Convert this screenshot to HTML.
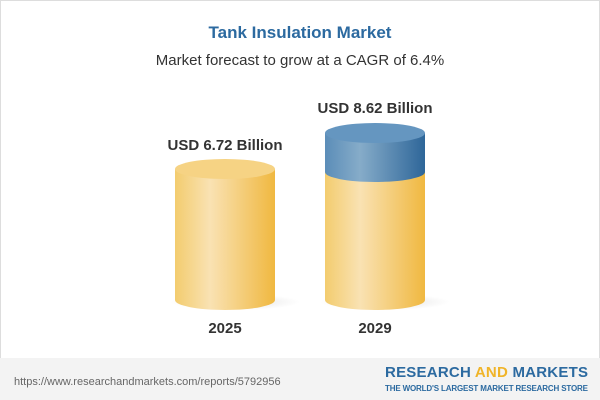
<!DOCTYPE html>
<html><head><style>
body{margin:0;width:600px;height:400px;background:#fff;font-family:"Liberation Sans",sans-serif;overflow:hidden;position:relative}
.box{position:absolute;left:0;top:0;width:598px;height:398px;border:1px solid #ddd}
.t{position:absolute;width:600px;text-align:center}
</style></head><body>
<div class="box"></div>
<div class="t" style="top:23px;font-size:17px;font-weight:bold;color:#2c6aa0">Tank Insulation Market</div>
<div class="t" style="top:52px;font-size:15px;color:#333">Market forecast to grow at a CAGR of 6.4%</div>
<div style="position:absolute;left:0;top:358px;width:600px;height:42px;background:#f3f3f3"></div>
<svg width="600" height="400" style="position:absolute;left:0;top:0">
<defs>
<linearGradient id="y" x1="0" x2="1"><stop offset="0" stop-color="#f3cc6e"/><stop offset="0.35" stop-color="#f9e2b3"/><stop offset="1" stop-color="#f0b840"/></linearGradient>
<linearGradient id="b" x1="0" x2="1"><stop offset="0" stop-color="#5b8db8"/><stop offset="0.35" stop-color="#86acc9"/><stop offset="1" stop-color="#2e6699"/></linearGradient>
<radialGradient id="sh"><stop offset="0" stop-color="#000" stop-opacity="0.12"/><stop offset="1" stop-color="#000" stop-opacity="0"/></radialGradient>
</defs>
<ellipse cx="235" cy="302" rx="65" ry="8" fill="url(#sh)"/>
<ellipse cx="385" cy="302" rx="65" ry="8" fill="url(#sh)"/>
<path d="M175 169 V300 A50 10 0 0 0 275 300 V169 Z" fill="url(#y)"/>
<ellipse cx="225" cy="169" rx="50" ry="10" fill="#f6d384"/>
<path d="M325 172 V300 A50 10 0 0 0 425 300 V172 Z" fill="url(#y)"/>
<path d="M325 133 V172 A50 10 0 0 0 425 172 V133 Z" fill="url(#b)"/>
<ellipse cx="375" cy="133" rx="50" ry="10" fill="#6596c0"/>
<g font-family="Liberation Sans,sans-serif" font-weight="bold" fill="#333" text-anchor="middle">
<text x="225" y="150" font-size="15">USD 6.72 Billion</text>
<text x="375" y="113" font-size="15">USD 8.62 Billion</text>
<text x="225" y="333" font-size="15">2025</text>
<text x="375" y="333" font-size="15">2029</text>
</g>
<text x="14" y="385" font-size="11" fill="#666" font-family="Liberation Sans,sans-serif">https://www.researchandmarkets.com/reports/5792956</text>
<text x="385" y="377" font-size="15" font-weight="bold" fill="#2c6aa0" font-family="Liberation Sans,sans-serif" textLength="203">RESEARCH <tspan fill="#f0b429">AND</tspan> MARKETS</text>
<text x="385" y="391" font-size="8" font-weight="bold" fill="#2c6aa0" font-family="Liberation Sans,sans-serif" textLength="203">THE WORLD'S LARGEST MARKET RESEARCH STORE</text>
</svg>
</body></html>
